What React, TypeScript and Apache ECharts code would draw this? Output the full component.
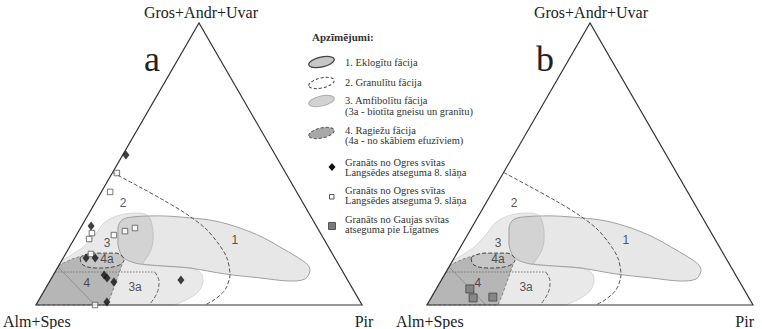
import React, { useEffect, useRef } from 'react';
import * as echarts from 'echarts';

const SQ3 = Math.sqrt(3) / 2;

// Ternary compositions: [Pir %, Gros+Andr+Uvar %]; remainder = Alm+Spes %
const triangle = [[0, 0], [100, 0], [0, 100]];

const region1Eclogite = [
  [11.5, 27.3], [11.3, 30.1], [13.8, 31.2], [22.2, 31.6], [31.8, 30.9], [40.0, 29.8],
  [48.9, 27.3], [57.3, 24.1], [64.5, 20.6], [71.6, 17.0], [76.3, 14.2], [78.0, 12.1],
  [77.9, 9.2], [73.6, 8.5], [63.9, 9.6], [52.5, 11.0], [40.7, 13.1], [32.7, 13.8],
  [27.9, 14.2], [22.9, 14.9], [18.2, 17.0], [14.5, 21.3],
];

const region3Amphibolite = [
  [5.8, 25.9], [6.2, 28.7], [7.9, 30.9], [11.1, 32.3], [15.6, 32.6], [18.6, 31.6],
  [21.4, 28.4], [24.4, 23.0], [25.6, 18.8], [25.4, 16.0], [25.6, 14.5], [31.1, 13.8],
  [40.7, 13.1], [45.0, 11.3], [47.1, 8.2], [47.4, 4.6], [45.1, 1.8], [41.7, 0],
  [19.6, 0], [0, 14.9], [1.7, 17.4], [4.0, 20.2], [5.1, 23.0],
];

const region4Hornfels = [
  [0, 0], [0, 14.2], [2.9, 16.3], [5.4, 17.4], [10.8, 17.7], [15.7, 17.7], [18.6, 16.7],
  [19.5, 13.1], [20.4, 8.2], [21.3, 3.5], [21.8, 0],
];

const region4aAcidVolcanics = [
  [5.2, 16.7], [8.3, 18.4], [15.6, 18.4], [19.0, 16.0], [17.9, 13.8], [12.2, 13.1], [7.3, 14.2],
];

const line2Granulite = [
  [0, 47.0], [11.0, 41.8], [21.1, 36.9], [29.4, 32.6], [38.2, 27.3], [44.8, 22.0],
  [50.2, 16.7], [54.2, 10.6], [55.3, 5.3], [53.7, 1.8], [51.8, 0],
];

const line3aTop = [[0, 11.7], [30.6, 11.7]];
const line3aSide = [[30.6, 11.7], [33.5, 8.5], [35.0, 4.3], [34.7, 0]];
const line4Diagonal = [[0, 13.5], [18.1, 0]];

// Garnet analyses
const ogres8Diamonds = [
  [1.0, 53.2], [2.9, 28.0], [7.0, 16.7], [9.8, 16.7], [15.6, 10.6], [17.0, 9.6],
  [19.8, 8.2], [21.2, 1.1], [40.0, 8.9],
];
const ogres9Squares = [
  [1.4, 46.8], [2.7, 40.1], [4.4, 25.5], [4.6, 23.4], [11.5, 24.8], [14.2, 26.2],
  [16.7, 27.3], [18.1, 0], [7.8, 18.1],
];
const gaujasSquares = [[10.3, 5.7], [12.9, 2.5], [18.8, 2.8]];

const fieldLabels = ['1', '2', '3', '4a', '4', '3a'];
const fieldLabelPos = [[49.5, 23.0], [8.6, 36.2], [10.8, 22.0], [13.6, 16.3], [11.7, 7.8], [27.2, 6.4]];

const apexLabel = 'Gros+Andr+Uvar';
const leftLabel = 'Alm+Spes';
const rightLabel = 'Pir';
const panelLetters = ['a', 'b'];

const legendTitle = 'Apzīmējumi:';
const legendFacies = [
  '1. Eklogītu fācija',
  '2. Granulītu fācija',
  '3. Amfibolītu fācija',
  '(3a - biotīta gneisu un granītu)',
  '4. Ragiežu fācija',
  '(4a - no skābiem efuzīviem)',
];
const legendGarnets = [
  'Granāts no Ogres svītas',
  'Langsēdes atseguma 8. slāņa',
  'Granāts no Ogres svītas',
  'Langsēdes atseguma 9. slāņa',
  'Granāts no Gaujas svītas',
  'atseguma pie Līgatnes',
];

const toXY = (p: number[]) => [(p[0] + p[1] / 2) / 100, (p[1] / 100) * SQ3];

const shapeDefs = [
  { pts: region3Amphibolite, kind: 'polygon', smooth: 0.35, style: { fill: '#e9e9e9', stroke: '#cfcfcf', lineWidth: 0.8 } },
  { pts: region1Eclogite, kind: 'polygon', smooth: 0.35, style: { fill: 'rgba(0,0,0,0.095)', stroke: '#a0a0a0', lineWidth: 1 } },
  { pts: region4Hornfels, kind: 'polygon', smooth: 0, style: { fill: '#b6b6b6', stroke: '#7a7a7a', lineWidth: 0.9, lineDash: [3, 2] } },
  { pts: region4aAcidVolcanics, kind: 'polygon', smooth: 0.4, style: { fill: '#c6c6c6', stroke: '#444', lineWidth: 1, lineDash: [4, 2] } },
  { pts: line3aTop, kind: 'polyline', smooth: 0, style: { fill: 'none', stroke: '#777', lineWidth: 1, lineDash: [1.5, 1.5] } },
  { pts: line3aSide, kind: 'polyline', smooth: 0.4, style: { fill: 'none', stroke: '#666', lineWidth: 1, lineDash: [4, 2] } },
  { pts: line4Diagonal, kind: 'polyline', smooth: 0, style: { fill: 'none', stroke: '#888', lineWidth: 0.8 } },
  { pts: line2Granulite, kind: 'polyline', smooth: 0.3, style: { fill: 'none', stroke: '#555', lineWidth: 1, lineDash: [4, 2] } },
  { pts: triangle, kind: 'polygon', smooth: 0, style: { fill: 'none', stroke: '#333', lineWidth: 1.2 } },
];

function shapeSeries(idx: number) {
  return {
    type: 'custom',
    xAxisIndex: idx,
    yAxisIndex: idx,
    silent: true,
    z: 2,
    data: shapeDefs.map(() => [0, 0]),
    renderItem: (params: any, api: any) => {
      const s = shapeDefs[params.dataIndex];
      const points = s.pts.map((p) => api.coord(toXY(p)));
      let x0 = Infinity, y0 = Infinity, x1 = -Infinity, y1 = -Infinity;
      points.forEach((pt: number[]) => {
        x0 = Math.min(x0, pt[0]); y0 = Math.min(y0, pt[1]);
        x1 = Math.max(x1, pt[0]); y1 = Math.max(y1, pt[1]);
      });
      const shape: any = { points };
      if (s.smooth > 0) {
        shape.smooth = s.smooth;
        shape.smoothConstraint = [[x0, y0], [x1, y1]];
      }
      return { type: s.kind, shape, style: s.style };
    },
  };
}

function labelSeries(idx: number) {
  return {
    type: 'scatter',
    xAxisIndex: idx,
    yAxisIndex: idx,
    silent: true,
    z: 5,
    symbolSize: 1,
    itemStyle: { color: 'rgba(0,0,0,0)' },
    label: {
      show: true,
      position: 'inside',
      formatter: '{b}',
      color: '#2a2a2a',
      fontSize: 12,
      fontFamily: 'Liberation Sans, Arial, sans-serif',
    },
    data: fieldLabelPos.map((p, i) => ({ name: fieldLabels[i], value: toXY(p) })),
  };
}

const SERIF = 'Liberation Serif, Times New Roman, serif';

function buildGraphic() {
  const g: any[] = [];
  const txt = (text: string, x: number, y: number, size: number, align = 'left', extra: any = {}) => ({
    type: 'text',
    x,
    y,
    silent: true,
    style: {
      text,
      font: `${extra.weight || 'normal'} ${size}px ${SERIF}`,
      fill: extra.fill || '#222',
      align,
      verticalAlign: 'middle',
    },
  });
  g.push(txt(apexLabel, 201, 12, 16, 'center'));
  g.push(txt(apexLabel, 591, 12, 16, 'center'));
  g.push(txt(leftLabel, 3, 321, 16));
  g.push(txt(leftLabel, 396, 321, 16));
  g.push(txt(rightLabel, 364, 321, 16, 'center'));
  g.push(txt(rightLabel, 754, 321, 16, 'right'));
  g.push(txt(panelLetters[0], 152, 59, 36, 'center'));
  g.push(txt(panelLetters[1], 545, 59, 36, 'center'));
  g.push(txt(legendTitle, 312, 37, 11, 'left', { weight: 'bold', fill: '#333' }));
  const iconY = [62, 83, 101, 133];
  const iconStyles = [
    { fill: '#c6c6c6', stroke: '#444', lineWidth: 1.2 },
    { fill: '#fff', stroke: '#444', lineWidth: 1, lineDash: [3, 2] },
    { fill: '#d2d2d2', stroke: '#aaa', lineWidth: 1 },
    { fill: '#a8a8a8', stroke: '#555', lineWidth: 1, lineDash: [3, 2] },
  ];
  iconY.forEach((y, i) => {
    g.push({
      type: 'ellipse',
      x: 321.5,
      y,
      rotation: 0.22,
      silent: true,
      shape: { cx: 0, cy: 0, rx: 13, ry: 5 },
      style: iconStyles[i],
    });
  });
  const faciesY = [62, 82, 100, 111, 130, 140];
  legendFacies.forEach((t, i) => g.push(txt(t, 345, faciesY[i], 10.5, 'left', { fill: '#333' })));
  const garnetY = [162, 172, 190, 200, 219, 229];
  legendGarnets.forEach((t, i) => g.push(txt(t, 345, garnetY[i], 10.5, 'left', { fill: '#333' })));
  g.push({
    type: 'polygon',
    silent: true,
    shape: { points: [[332, 163], [335.5, 167], [332, 171], [328.5, 167]] },
    style: { fill: '#111' },
  });
  g.push({ type: 'rect', silent: true, shape: { x: 329.5, y: 194.5, width: 4.5, height: 4.5 }, style: { fill: '#fff', stroke: '#555', lineWidth: 1 } });
  g.push({ type: 'rect', silent: true, shape: { x: 328.5, y: 222.5, width: 7, height: 7 }, style: { fill: '#7a7a7a', stroke: '#555', lineWidth: 1 } });
  return g;
}

export default function App() {
  const ref = useRef<HTMLDivElement>(null);
  useEffect(() => {
    if (!ref.current) return;
    const chart = echarts.init(ref.current, null, { renderer: 'svg' });
    const grid = [
      { left: 36, top: 23, width: 326, height: 282 },
      { left: 427, top: 23, width: 326, height: 282 },
    ];
    const xAxis = [0, 1].map((i) => ({ gridIndex: i, type: 'value', min: 0, max: 1, show: false }));
    const yAxis = [0, 1].map((i) => ({ gridIndex: i, type: 'value', min: 0, max: SQ3, show: false }));
    chart.setOption({
      animation: false,
      backgroundColor: '#fff',
      textStyle: { fontFamily: SERIF },
      grid,
      xAxis,
      yAxis,
      graphic: buildGraphic(),
      series: [
        shapeSeries(0),
        shapeSeries(1),
        {
          type: 'scatter',
          xAxisIndex: 0,
          yAxisIndex: 0,
          z: 4,
          symbol: 'rect',
          symbolSize: 5.5,
          itemStyle: { color: '#fff', borderColor: '#555', borderWidth: 1 },
          data: ogres9Squares.map(toXY),
        },
        {
          type: 'scatter',
          xAxisIndex: 0,
          yAxisIndex: 0,
          z: 4,
          symbol: 'diamond',
          symbolSize: [7, 9],
          itemStyle: { color: '#111' },
          data: ogres8Diamonds.map(toXY),
        },
        {
          type: 'scatter',
          xAxisIndex: 1,
          yAxisIndex: 1,
          z: 4,
          symbol: 'rect',
          symbolSize: 8,
          itemStyle: { color: '#7a7a7a', borderColor: '#444', borderWidth: 1 },
          data: gaujasSquares.map(toXY),
        },
        labelSeries(0),
        labelSeries(1),
      ],
    });
    return () => chart.dispose();
  }, []);
  return <div ref={ref} style={{ position: 'absolute', left: 0, top: 0, width: 762, height: 329 }} />;
}
